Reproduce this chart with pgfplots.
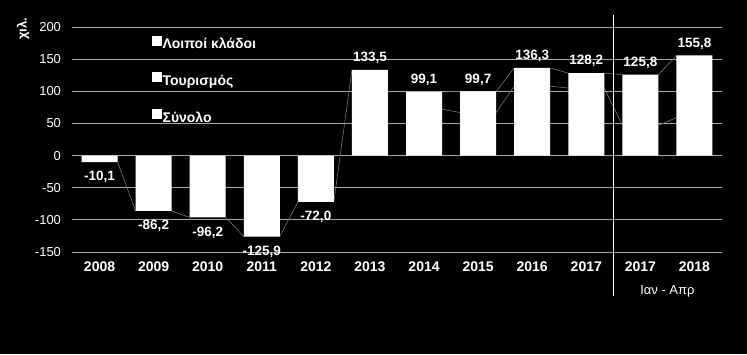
\documentclass[border=0pt]{standalone}
\usepackage{pgfplots}
\pgfplotsset{compat=1.18}
\usepackage{pgfplotstable}
\usepackage{fontspec}
\setmainfont{Liberation Sans}

\pgfplotstableread{
x y lab
0 -10.1 -10,1
1 -86.2 -86,2
2 -96.2 -96,2
3 -125.9 -125,9
4 -72.0 -72,0
}\negdata

\pgfplotstableread{
x y lab
5 133.5 133,5
6 99.1 99,1
7 99.7 99,7
8 136.3 136,3
9 128.2 128,2
10 125.8 125,8
11 155.8 155,8
}\posdata

\pgfplotstableread{
x y
0.333 -10.1
0.667 -86.2
nan nan
1.333 -86.2
1.667 -96.2
nan nan
2.333 -96.2
2.667 -125.9
nan nan
3.333 -125.9
3.667 -72.0
nan nan
4.333 -72.0
4.667 133.5
nan nan
6.333 99.1
6.667 99.7
nan nan
7.333 99.7
7.667 136.3
nan nan
8.333 136.3
8.667 128.2
nan nan
9.333 128.2
9.667 125.8
nan nan
10.333 125.8
10.667 155.8
}\toplines

\pgfplotstableread{
x y
6.333 72
6.667 67
nan nan
7.333 67
7.667 108
nan nan
8.333 108
8.667 105
nan nan
9.333 105
9.667 47
nan nan
10.333 47
10.667 59
}\innerlines

\begin{document}
\begin{tikzpicture}
\fill[black] (0,0) rectangle (747pt,354pt);
\node[rotate=90, text=white, font=\bfseries\fontsize{13}{15}\selectfont] at (23pt,325pt) {χιλ.};
\begin{axis}[
  at={(72.5pt,102pt)}, anchor=south west,
  scale only axis, width=649pt, height=225pt,
  xmin=-0.5, xmax=11.5, ymin=-150, ymax=200,
  clip=false,
  axis line style={draw=none},
  tick style={draw=none},
  major tick length=0pt,
  ytick={-150,-100,-50,0,50,100,150,200},
  yticklabels={-150,-100,-50,0,50,100,150,200},
  ymajorgrids,
  grid style={color=black!35!white, line width=0.8pt},
  xtick={0,1,2,3,4,5,6,7,8,9,10,11},
  xticklabels={2008,2009,2010,2011,2012,2013,2014,2015,2016,2017,2017,2018},
  yticklabel style={text=white, font=\fontsize{13}{15}\selectfont, xshift=-8pt},
  xticklabel style={text=white, font=\bfseries\fontsize{14}{16}\selectfont, yshift=-6pt},
  legend style={at={(0.1225,0.962)}, anchor=north west, draw=none, fill=none,
    text=white, font=\bfseries\fontsize{14}{16}\selectfont,
    row sep=21pt, inner sep=0pt, column sep=0pt, nodes={inner sep=1pt}},
  legend cell align=left,
  legend image code/.code={\fill[white] (0pt,-0.5pt) rectangle (9pt,8.5pt);},
]
\addlegendimage{white}
\addlegendentry{Λοιποί κλάδοι}
\addlegendimage{white}
\addlegendentry{Τουρισμός}
\addlegendimage{white}
\addlegendentry{Σύνολο}

\addplot[forget plot, color=black!55!white, line width=0.6pt, unbounded coords=jump] table[x=x,y=y] {\toplines};
\addplot[forget plot, color=black!55!white, line width=0.6pt, unbounded coords=jump] table[x=x,y=y] {\innerlines};

\addplot[forget plot, ybar, bar width=0.666, fill=white, draw=none,
  nodes near coords, point meta=explicit symbolic,
  nodes near coords align={anchor=south},
  every node near coord/.append style={text=white, font=\bfseries\fontsize{13.5}{15}\selectfont, inner sep=6pt}]
  table[x=x,y=y,meta=lab] {\posdata};
\addplot[forget plot, ybar, bar width=0.666, fill=white, draw=none,
  nodes near coords, point meta=explicit symbolic,
  nodes near coords align={anchor=north},
  every node near coord/.append style={text=white, font=\bfseries\fontsize{13.5}{15}\selectfont, inner sep=9pt}]
  table[x=x,y=y,meta=lab] {\negdata};

\draw[white, line width=1.2pt] (axis cs:9.5,219) -- (axis cs:9.5,-218);
\node[text=white, font=\fontsize{13}{15}\selectfont] at (axis cs:10.5,-150) [yshift=-39pt] {Ιαν - Απρ};
\end{axis}
\end{tikzpicture}
\end{document}
